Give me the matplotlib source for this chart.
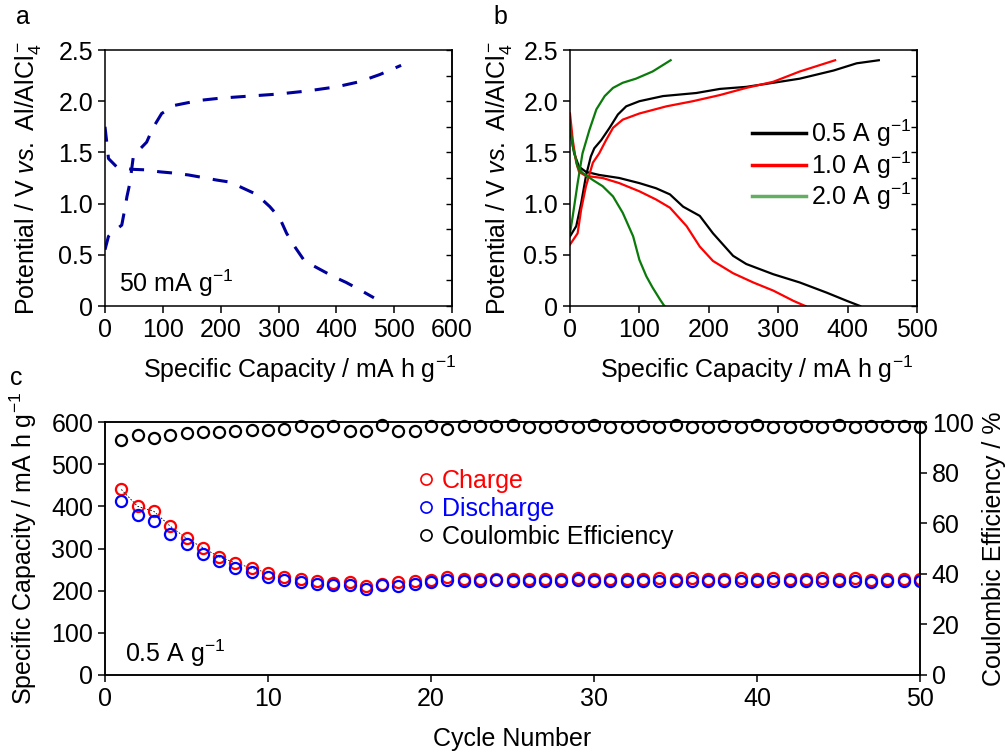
import numpy as np
import matplotlib.pyplot as plt
from matplotlib.lines import Line2D

plt.rcParams['font.family'] = ['Liberation Sans', 'DejaVu Sans']
plt.rcParams['font.size'] = 18
plt.rcParams['mathtext.fontset'] = 'custom'
plt.rcParams['mathtext.rm'] = 'Liberation Sans'
plt.rcParams['mathtext.it'] = 'Liberation Sans:italic'
plt.rcParams['axes.linewidth'] = 1.1

# --- panel a: 50 mA g-1 ---
a_chg_x = [0, 6, 12, 20, 29, 35, 38, 43, 46, 49, 60, 72, 83, 98, 121, 143, 167, 200, 250, 300, 350, 400, 440,
           475, 512]
a_chg_y = [0.55, 0.68, 0.72, 0.75, 0.79, 0.97, 1.07, 1.20, 1.33, 1.46, 1.53, 1.60, 1.74, 1.88, 1.96, 1.985, 2.01,
           2.03, 2.05, 2.07, 2.10, 2.14, 2.19, 2.26, 2.35]
a_dis_x = [0, 3, 6, 20, 46, 69, 95, 115, 144, 164, 193, 216, 239, 262, 285, 302, 314, 328, 345, 371, 394, 417,
           440, 465]
a_dis_y = [1.75, 1.60, 1.44, 1.36, 1.335, 1.33, 1.31, 1.30, 1.28, 1.26, 1.23, 1.21, 1.15, 1.09, 0.97, 0.86,
           0.71, 0.58, 0.44, 0.36, 0.29, 0.23, 0.16, 0.08]

# --- panel b: rate curves ---
b05_chg_x = [0, 9, 16, 23, 30, 35, 45, 57, 69, 81, 100, 134, 182, 216, 254, 293, 331, 380, 413, 445]
b05_chg_y = [0.68, 0.78, 1.00, 1.27, 1.46, 1.54, 1.62, 1.74, 1.87, 1.95, 2.00, 2.05, 2.08, 2.12, 2.14, 2.18,
             2.22, 2.30, 2.37, 2.40]
b05_dis_x = [0, 6, 13, 23, 42, 71, 100, 124, 144, 163, 187, 206, 235, 254, 293, 331, 370, 399, 418]
b05_dis_y = [1.72, 1.49, 1.36, 1.31, 1.28, 1.25, 1.20, 1.15, 1.09, 0.97, 0.88, 0.71, 0.49, 0.41, 0.31, 0.23,
             0.13, 0.05, 0.0]
b10_chg_x = [0, 11, 16, 23, 33, 42, 52, 62, 76, 100, 139, 177, 216, 254, 293, 331, 382]
b10_chg_y = [0.60, 0.71, 0.94, 1.17, 1.40, 1.49, 1.62, 1.74, 1.82, 1.88, 1.95, 2.00, 2.06, 2.13, 2.19, 2.29, 2.40]
b10_dis_x = [0, 4, 9, 13, 23, 47, 71, 100, 124, 144, 168, 187, 206, 235, 264, 293, 322, 339]
b10_dis_y = [1.88, 1.62, 1.40, 1.31, 1.27, 1.25, 1.20, 1.12, 1.04, 0.96, 0.78, 0.58, 0.44, 0.32, 0.23, 0.15,
             0.05, 0.0]
b20_chg_x = [0, 4, 11, 18, 28, 38, 50, 62, 76, 95, 119, 145]
b20_chg_y = [0.71, 0.88, 1.20, 1.49, 1.72, 1.92, 2.05, 2.13, 2.18, 2.22, 2.29, 2.40]
b20_dis_x = [0, 4, 11, 18, 33, 47, 62, 76, 91, 100, 110, 119, 130, 136]
b20_dis_y = [1.77, 1.56, 1.36, 1.30, 1.23, 1.17, 1.07, 0.91, 0.68, 0.45, 0.29, 0.18, 0.06, 0.0]

# --- panel c: cycling at 0.5 A g-1 ---
cycles = np.arange(1, 51)
charge = [440, 400, 388, 353, 324, 302, 280, 266, 253, 242, 233, 227, 223, 219, 221, 211, 215, 221, 223, 225,
          233, 228, 228, 228, 228, 228, 228, 228, 229, 228, 228, 228, 228, 229, 228, 229, 228, 228, 229, 228,
          229, 228, 228, 229, 228, 229, 226, 227, 228, 228]
discharge = [412, 380, 365, 335, 310, 288, 270, 254, 244, 233, 225, 220, 215, 213, 213, 203, 213, 212, 215, 220,
             225, 223, 223, 225, 223, 223, 223, 223, 225, 223, 223, 223, 223, 224, 223, 224, 223, 223, 224, 223,
             224, 223, 223, 224, 223, 223, 220, 222, 223, 223]
ce = [93.0, 95.0, 93.8, 95.0, 95.7, 95.9, 95.9, 96.6, 97.0, 97.0, 97.2, 98.3, 96.6, 98.3, 96.6, 96.6, 98.9, 96.6,
      96.6, 98.3, 97.2, 98.3, 98.6, 98.3, 98.9, 98.0, 98.0, 98.3, 98.0, 98.9, 98.0, 98.0, 98.3, 98.0, 98.9, 98.0,
      98.0, 98.3, 98.0, 98.9, 98.0, 98.0, 98.3, 98.0, 98.9, 98.0, 98.3, 98.3, 98.6, 98.0]

W, H = 1005, 756
fig = plt.figure(figsize=(W / 100, H / 100), dpi=100)

def box(l, r, t, b):
    return [l / W, 1 - b / H, (r - l) / W, (b - t) / H]

ylab = r'Potential / V $\mathit{vs.}$ Al/AlCl$_4^-$'
xlab = r'Specific Capacity / mA h g$^{-1}$'

def style_vs(ax, ypad, xpos):
    ax.tick_params(axis='both', which='major', direction='out', length=5, width=1.1, top=False, right=False)
    ax.set_ylim(0, 2.5)
    ax.set_yticks([0, 0.5, 1.0, 1.5, 2.0, 2.5])
    ax.set_yticklabels(['0', '0.5', '1.0', '1.5', '2.0', '2.5'])
    # small inward ticks on the right spine
    r = ax.secondary_yaxis('right')
    r.set_yticks(np.arange(0, 2.51, 0.25))
    r.tick_params(direction='in', length=4, width=1.0, labelright=False)
    ax.set_ylabel(ylab, labelpad=ypad)
    ax.set_xlabel(xlab)
    ax.xaxis.set_label_coords(xpos, -0.185)

# panel a
ax1 = fig.add_axes(box(105, 452, 50, 306))
ax1.plot(a_chg_x, a_chg_y, color='#00009C', lw=2.2, dashes=(4.9, 4.3))
ax1.plot(a_dis_x, a_dis_y, color='#00009C', lw=2.2, dashes=(4.9, 4.3))
ax1.set_xlim(0, 600)
ax1.set_xticks(range(0, 601, 100))
style_vs(ax1, 11, 0.562)
ax1.text(25, 0.22, r'50 mA g$^{-1}$', va='center')

# panel b
ax2 = fig.add_axes(box(570, 917, 50, 306))
ax2.plot(b05_chg_x, b05_chg_y, color='black', lw=1.6)
ax2.plot(b05_dis_x, b05_dis_y, color='black', lw=1.6)
ax2.plot(b10_chg_x, b10_chg_y, color='#FF0000', lw=1.6)
ax2.plot(b10_dis_x, b10_dis_y, color='#FF0000', lw=1.6)
ax2.plot(b20_chg_x, b20_chg_y, color='#0A7A0A', lw=1.6)
ax2.plot(b20_dis_x, b20_dis_y, color='#0A7A0A', lw=1.6)
ax2.set_xlim(0, 500)
ax2.set_xticks(range(0, 501, 100))
style_vs(ax2, 7, 0.539)
handles = [Line2D([], [], color='black', lw=2.5),
           Line2D([], [], color='#FF0000', lw=2.5),
           Line2D([], [], color='#62AE62', lw=2.5)]
ax2.legend(handles, [r'0.5 A g$^{-1}$', r'1.0 A g$^{-1}$', r'2.0 A g$^{-1}$'],
           loc='upper left', bbox_to_anchor=(0.524, 0.735), frameon=False,
           handlelength=2.15, handletextpad=0.2, labelspacing=0.0, borderaxespad=0, borderpad=0)

# panel c
ax3 = fig.add_axes(box(105, 920, 422, 675))
ax3.plot(cycles[:10], charge[:10], color='black', lw=0.6, dashes=(2, 2), zorder=1)
ax3.plot(cycles, charge, 'o', mfc='none', mec='#FF0000', ms=8, mew=1.6, zorder=2)
ax3.plot(cycles, discharge, 'o', mfc='none', mec='#0000FF', ms=8, mew=1.6, zorder=3)
ax3.set_xlim(0, 50)
ax3.set_ylim(0, 600)
ax3.set_xticks(range(0, 51, 10))
ax3.set_yticks(range(0, 601, 100))
ax3.tick_params(direction='out', length=5, width=1.1, top=False, right=False)
ax3.set_xlabel('Cycle Number', labelpad=12)
ax3.set_ylabel(r'Specific Capacity / mA h g$^{-1}$', labelpad=9)
ax3.text(1.2, 52, r'0.5 A g$^{-1}$', va='center')

ax4 = ax3.twinx()
ax4.plot(cycles, ce, 'o', mfc='none', mec='black', ms=8, mew=1.6, clip_on=False, zorder=4)
ax4.set_ylim(0, 100)
ax4.set_yticks(range(0, 101, 20))
ax4.tick_params(direction='out', length=5, width=1.1)
ax4.set_ylabel('Coulombic Efficiency / %', labelpad=6)

leg_h = [Line2D([], [], ls='none', marker='o', mfc='none', mec=c, ms=8, mew=1.2)
         for c in ['#FF0000', '#0000FF', 'black']]
leg = ax4.legend(leg_h, ['Charge', 'Discharge', 'Coulombic Efficiency'],
                 loc='upper left', bbox_to_anchor=((412 - 105) / (920 - 105), (675 - 469) / (675 - 422)),
                 frameon=False, handletextpad=0.1, handlelength=1.1, labelspacing=0.16,
                 borderaxespad=0, borderpad=0)
for t, c in zip(leg.get_texts(), ['#FF0000', '#0000FF', 'black']):
    t.set_color(c)

fig.text(16 / W, 1 - 17 / H, 'a', va='center', ha='left')
fig.text(493 / W, 1 - 17 / H, 'b', va='center', ha='left')
fig.text(10 / W, 1 - 378 / H, 'c', va='center', ha='left')

fig.savefig('out.png', dpi=100)
